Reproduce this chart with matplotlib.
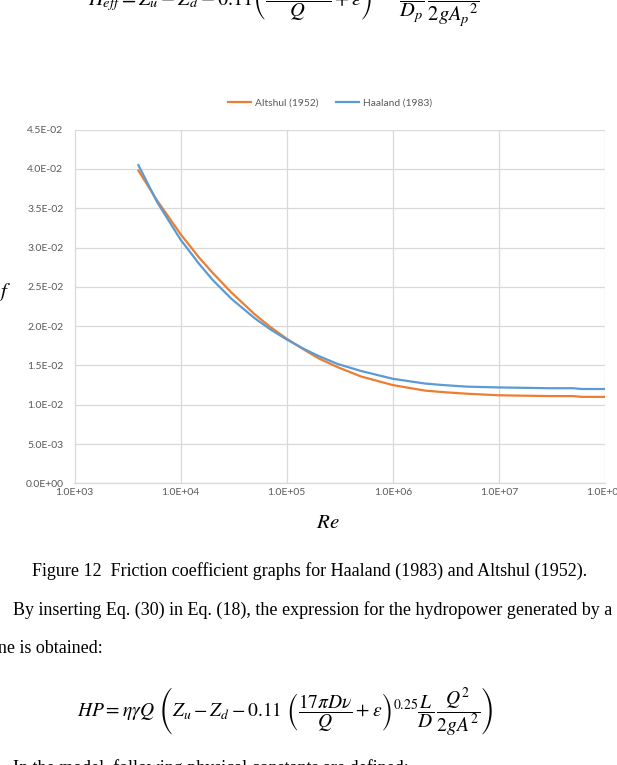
import matplotlib
matplotlib.use("Agg")
import matplotlib.pyplot as plt
from matplotlib.ticker import FixedLocator, FuncFormatter

# ---- data ----
re_values = [4000, 6000, 10000, 15000, 20000, 30000, 50000, 70000, 100000,
             150000, 200000, 300000, 500000, 1000000, 2000000, 3000000,
             5000000, 10000000, 30000000, 50000000, 60000000, 100000000]
altshul_f = [0.0398, 0.0360, 0.0317, 0.0287, 0.0268, 0.0243, 0.0215, 0.0199, 0.0184,
             0.0169, 0.0159, 0.0148, 0.0136, 0.0125, 0.0118, 0.0116,
             0.0114, 0.0112, 0.0111, 0.0111, 0.0110, 0.0110]
haaland_f = [0.0405, 0.0358, 0.0310, 0.0279, 0.0259, 0.0235, 0.0210, 0.0196, 0.0183,
             0.0170, 0.0162, 0.0152, 0.0143, 0.0133, 0.0127, 0.0125,
             0.0123, 0.0122, 0.0121, 0.0121, 0.0120, 0.0120]
x_ticks = [1e3, 1e4, 1e5, 1e6, 1e7, 1e8]
y_ticks = [0.0, 0.005, 0.01, 0.015, 0.02, 0.025, 0.03, 0.035, 0.04, 0.045]
series_names = ["Altshul (1952)", "Haaland (1983)"]

W, H = 617, 765
plt.rcParams['mathtext.fontset'] = 'stix'
fig = plt.figure(figsize=(W / 100, H / 100), dpi=100)
fig.patch.set_facecolor('white')

def px(x, y):
    return x / W, 1 - y / H

chart_font = 'Lato'

# axes placement
left, right, top, bottom = 74.5, 605, 129.7, 483.3
ax = fig.add_axes([left / W, 1 - bottom / H, (right - left) / W, (bottom - top) / H])
ax.plot(re_values, altshul_f, color='#ED7D31', lw=1.6, label=series_names[0])
ax.plot(re_values, haaland_f, color='#5B9BD5', lw=1.6, label=series_names[1])
ax.set_xscale('log')
ax.set_xlim(1e3, 1e8)
ax.set_ylim(0, 0.045)
ax.xaxis.set_major_locator(FixedLocator(x_ticks))
ax.xaxis.set_minor_locator(FixedLocator([]))
ax.yaxis.set_major_locator(FixedLocator(y_ticks))
fmt = FuncFormatter(lambda v, p: '{:.1E}'.format(v))
ax.xaxis.set_major_formatter(fmt)
ax.yaxis.set_major_formatter(fmt)
ax.grid(True, color='#D9D9D9', lw=0.9)
ax.set_axisbelow(True)
for s in ['top', 'right']:
    ax.spines[s].set_visible(False)
for s in ['left', 'bottom']:
    ax.spines[s].set_color('#D9D9D9')
    ax.spines[s].set_linewidth(0.9)
ax.tick_params(axis='y', length=0, labelsize=7.5, labelcolor='#595959', pad=8)
ax.tick_params(axis='x', length=0, labelsize=7.5, labelcolor='#595959', pad=3.5)
for lab in ax.get_xticklabels() + ax.get_yticklabels():
    lab.set_family(chart_font)
for lab in ax.get_xticklabels():
    lab.set_clip_on(False)

leg = fig.legend(loc='center', bbox_to_anchor=px(330, 103), ncol=2, frameon=False,
                 prop={'family': chart_font, 'size': 7.4},
                 handlelength=2.2, columnspacing=1.7, handletextpad=0.4,
                 labelcolor='#595959')

# axis titles
fig.text(*px(4, 292), r'$f$', fontsize=15, ha='center', va='center')
fig.text(*px(328, 522), r'$Re$', fontsize=15, ha='center', va='center')

# surrounding page text
serif = 'Liberation Serif'
fig.text(*px(88, 2), r'$H_{eff}=Z_u-Z_d-0.11\left(\dfrac{17\pi D_p\nu}{Q}+\varepsilon\right)^{0.25}\dfrac{L_p}{D_p}\,\dfrac{Q^2}{2gA_p{}^2}$',
         fontsize=14.8, ha='left', va='center')
fig.text(*px(310, 576), 'Figure 12  Friction coefficient graphs for Haaland (1983) and Altshul (1952).',
         family=serif, fontsize=12.95, ha='center', va='baseline')
fig.text(*px(13, 615), 'By inserting Eq. (30) in Eq. (18), the expression for the hydropower generated by a',
         family=serif, fontsize=12.95, ha='left', va='baseline')
fig.text(*px(-7, 653), 'ine is obtained:', family=serif, fontsize=12.95, ha='left', va='baseline')
fig.text(*px(77, 711), r'$HP=\eta\gamma Q\ \left(Z_u-Z_d-0.11\ \left(\dfrac{17\pi D\nu}{Q}+\varepsilon\right)^{0.25}\dfrac{L}{D}\,\dfrac{Q^2}{2gA^2}\right)$',
         fontsize=14, ha='left', va='center')
fig.text(*px(13, 773), 'In the model, following physical constants are defined:',
         family=serif, fontsize=12.95, ha='left', va='baseline')

fig.savefig('out.png', dpi=100, facecolor='white')
